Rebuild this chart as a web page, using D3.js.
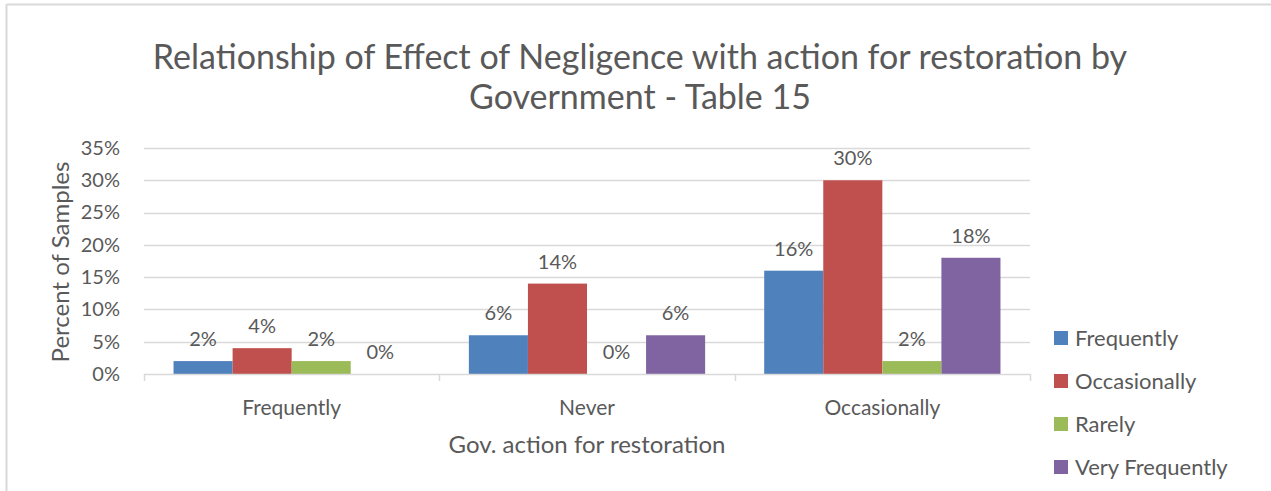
<!DOCTYPE html>
<html>
<head>
<meta charset="utf-8">
<script src="https://cdn.jsdelivr.net/npm/d3@7"></script>
<style>
  html, body { margin: 0; padding: 0; background: #fff; }
  svg { display: block; font-family: Lato, "Open Sans", sans-serif; }
</style>
</head>
<body>
<svg id="chart" width="1271" height="491"></svg>
<script>
// Categories on the x axis (government action for restoration)
const categories = ["Frequently", "Never", "Occasionally"];
// Series = effect of negligence
const seriesNames = ["Frequently", "Occasionally", "Rarely", "Very Frequently"];
const seriesColors = ["#4F81BD", "#C0504D", "#9BBB59", "#8064A2"];
// Percent of samples per series, one value per category
const frequentlyValues = [2, 6, 16];
const occasionallyValues = [4, 14, 30];
const rarelyValues = [2, 0, 2];
const veryFrequentlyValues = [0, 6, 18];
const yTicks = [0, 5, 10, 15, 20, 25, 30, 35];

const seriesValues = [frequentlyValues, occasionallyValues, rarelyValues, veryFrequentlyValues];

const svg = d3.select("#chart");
const textColor = "#595959";
const gridColor = "#D9D9D9";
const fontStack = "Lato, 'Open Sans', sans-serif";

// Chart area frame (top and left edges visible)
svg.append("line").attr("x1", 7).attr("x2", 1271).attr("y1", 4.5).attr("y2", 4.5)
  .attr("stroke", gridColor).attr("stroke-width", 2);
svg.append("line").attr("x1", 6.5).attr("x2", 6.5).attr("y1", 4).attr("y2", 491)
  .attr("stroke", gridColor).attr("stroke-width", 2);

const plot = { left: 144, right: 1030, top: 148, bottom: 374 };

const x0 = d3.scaleBand().domain(categories).range([plot.left, plot.right]).paddingInner(0).paddingOuter(0);
const x1 = d3.scaleBand().domain(seriesNames).range([0, x0.bandwidth()]).paddingOuter(0.5).paddingInner(0);
const y = d3.scaleLinear().domain([0, 35]).range([plot.bottom, plot.top]);

// Title
const title = svg.append("text").attr("text-anchor", "middle").attr("fill", textColor)
  .style("font-size", "34px");
title.append("tspan").attr("x", 640).attr("y", 69).text("Relationship of Effect of Negligence with action for restoration by");
title.append("tspan").attr("x", 640).attr("y", 109).text("Government - Table 15");

// Horizontal gridlines
svg.append("g").selectAll("line").data(yTicks.filter(d => d > 0)).join("line")
  .attr("x1", plot.left).attr("x2", plot.right)
  .attr("y1", d => Math.round(y(d)) + 0.5).attr("y2", d => Math.round(y(d)) + 0.5)
  .attr("stroke", gridColor).attr("stroke-width", 1.5);

// Y axis labels
const yAxis = d3.axisLeft(y).tickValues(yTicks).tickFormat(d => d + "%").tickSize(0).tickPadding(0);
const yg = svg.append("g").attr("transform", `translate(${plot.left - 24},0)`).call(yAxis);
yg.select(".domain").remove();
yg.selectAll("text").attr("fill", textColor).style("font-size", "20px").style("font-family", fontStack);

// Bars
const groups = svg.append("g").selectAll("g").data(categories).join("g")
  .attr("transform", d => `translate(${x0(d)},0)`);
groups.selectAll("rect")
  .data((c, ci) => seriesNames.map((s, si) => ({ s, si, v: seriesValues[si][ci] })))
  .join("rect")
  .attr("x", d => x1(d.s))
  .attr("width", x1.bandwidth())
  .attr("y", d => y(d.v))
  .attr("height", d => y(0) - y(d.v))
  .attr("fill", d => seriesColors[d.si]);

// Value labels
groups.selectAll("text")
  .data((c, ci) => seriesNames.map((s, si) => ({ s, si, v: seriesValues[si][ci] })))
  .join("text")
  .attr("x", d => x1(d.s) + x1.bandwidth() / 2)
  .attr("y", d => y(d.v) - 15)
  .attr("text-anchor", "middle")
  .attr("fill", textColor)
  .style("font-size", "20px")
  .text(d => d.v + "%");

// X axis baseline and ticks
const xAxis = d3.axisBottom(x0).tickSize(0).tickPadding(0);
const xg = svg.append("g").attr("transform", `translate(0,${plot.bottom})`).call(xAxis);
xg.select(".domain").remove();
xg.selectAll("text").attr("fill", textColor).style("font-size", "21px")
  .style("font-family", fontStack).attr("dy", "1.93em");
svg.append("line").attr("x1", plot.left).attr("x2", plot.right)
  .attr("y1", plot.bottom + 0.5).attr("y2", plot.bottom + 0.5)
  .attr("stroke", gridColor).attr("stroke-width", 1.5);
const boundaries = [plot.left, ...categories.map(c => x0(c) + x0.bandwidth())];
svg.append("g").selectAll("line").data(boundaries).join("line")
  .attr("x1", d => Math.round(d) + 0.5).attr("x2", d => Math.round(d) + 0.5)
  .attr("y1", plot.bottom).attr("y2", plot.bottom + 7)
  .attr("stroke", gridColor).attr("stroke-width", 1.5);

// Axis titles
svg.append("text").attr("x", (plot.left + plot.right) / 2).attr("y", 453)
  .attr("text-anchor", "middle").attr("fill", textColor).style("font-size", "24px")
  .text("Gov. action for restoration");
svg.append("text").attr("transform", `translate(69,${(plot.top + plot.bottom) / 2 + 1}) rotate(-90)`)
  .attr("text-anchor", "middle").attr("fill", textColor).style("font-size", "24px")
  .text("Percent of Samples");

// Legend
const legend = svg.append("g").selectAll("g").data(seriesNames).join("g")
  .attr("transform", (d, i) => `translate(1054,${331 + i * 43})`);
legend.append("rect").attr("width", 14).attr("height", 14).attr("fill", (d, i) => seriesColors[i]);
legend.append("text").attr("x", 21).attr("y", 15).attr("fill", textColor)
  .style("font-size", "22px").text(d => d);
</script>
</body>
</html>
